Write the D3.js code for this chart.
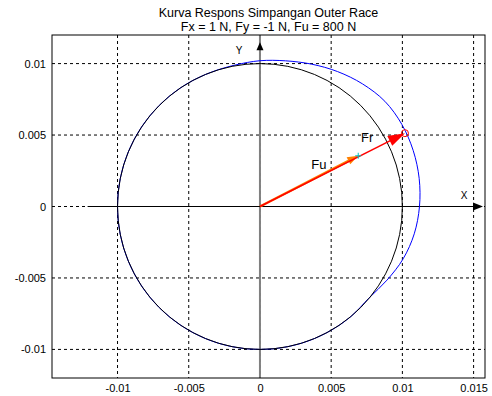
<!DOCTYPE html>
<html>
<head>
<meta charset="utf-8">
<script src="https://cdn.jsdelivr.net/npm/d3@7"></script>
<style>
  body { margin: 0; background: #fff; }
  text { font-family: "Liberation Sans", Arial, sans-serif; }
</style>
</head>
<body>
<div id="chart-area"></div>
<script>
// data
const titleLines = ["Kurva Respons Simpangan Outer Race", "Fx = 1 N, Fy = -1 N, Fu = 800 N"];
const xTicks = [-0.01, -0.005, 0, 0.005, 0.01, 0.015];
const yTicks = [-0.01, -0.005, 0, 0.005, 0.01];

// nominal race (radius 0.01)
const raceRadius = 0.01;

// deflected race, polar: angle (deg) and radius
const blueAngle = [-180, -170, -160, -150, -140, -130, -120, -110, -100, -90, -80, -70, -60, -50, -40, -30, -20, -10,
    0, 10, 20, 30, 40, 50, 60, 70, 80, 90, 100, 110, 120, 130, 140, 150, 160, 170];
const blueRadius = [0.01, 0.01, 0.01, 0.01, 0.01, 0.01, 0.01, 0.01, 0.01, 0.01, 0.01, 0.01, 0.01, 0.01, 0.00998, 0.0103, 0.0107, 0.011,
    0.0112, 0.01135, 0.01145, 0.0115, 0.01145, 0.0112, 0.0109, 0.0106, 0.01035, 0.0102, 0.01005, 0.01, 0.01, 0.01, 0.01, 0.01, 0.01, 0.01];

// force vectors
const fu = [0.0069, 0.00355];
const fr = [0.01018, 0.00513];

const width = 492, height = 396;
const mLeft = 52, mRight = 485, mTop = 35, mBottom = 378;

const svg = d3.select('#chart-area')
    .append("svg")
    .attr("width", width)
    .attr("height", height);

const x = d3.scaleLinear().domain([-0.0146, 0.0158]).range([mLeft, mRight]);
const y = d3.scaleLinear().domain([-0.012, 0.012]).range([mBottom, mTop]);

// title
svg.selectAll(".title")
    .data(titleLines)
    .join("text")
    .attr("class", "title")
    .attr("x", (mLeft + mRight) / 2)
    .attr("y", (d, i) => 17 + i * 14)
    .attr("text-anchor", "middle")
    .attr("font-size", 12.5)
    .text(d => d);

// axes labels
svg.append("g")
    .attr("transform", "translate(0," + mBottom + ")")
    .call(d3.axisBottom(x).tickValues(xTicks).tickSize(0).tickPadding(6).tickFormat(d => String(d)))
    .call(g => g.select(".domain").remove())
    .selectAll("text").attr("font-size", 11).attr("font-family", "Liberation Sans, Arial, sans-serif").attr("fill", "#000");

svg.append("g")
    .attr("transform", "translate(" + mLeft + ",0)")
    .call(d3.axisLeft(y).tickValues(yTicks).tickSize(0).tickPadding(6).tickFormat(d => String(d)))
    .call(g => g.select(".domain").remove())
    .selectAll("text").attr("font-size", 11).attr("font-family", "Liberation Sans, Arial, sans-serif").attr("fill", "#000");

// grid
svg.selectAll(".vgrid")
    .data(xTicks)
    .join("line")
    .attr("x1", d => x(d)).attr("x2", d => x(d))
    .attr("y1", mTop).attr("y2", mBottom)
    .attr("stroke", "#000")
    .attr("stroke-dasharray", "3,3");

svg.selectAll(".hgrid")
    .data(yTicks)
    .join("line")
    .attr("x1", mLeft).attr("x2", mRight)
    .attr("y1", d => y(d)).attr("y2", d => y(d))
    .attr("stroke", "#000")
    .attr("stroke-dasharray", "3,3");

// y axis line (gray, full height) and arrow
svg.append("line")
    .attr("x1", x(0)).attr("x2", x(0))
    .attr("y1", mTop).attr("y2", mBottom)
    .attr("stroke", "#808080")
    .attr("stroke-width", 2);

// x axis line
svg.append("line")
    .attr("x1", x(-0.0121)).attr("x2", x(0.0155))
    .attr("y1", y(0)).attr("y2", y(0))
    .attr("stroke", "#000");

function arrowHead(tx, ty, ang, len, half, color) {
    const bx = tx - len * Math.cos(ang), by = ty - len * Math.sin(ang);
    const px = -Math.sin(ang) * half, py = Math.cos(ang) * half;
    svg.append("path")
        .attr("d", "M" + tx + "," + ty + "L" + (bx + px) + "," + (by + py) + "L" + (bx - px) + "," + (by - py) + "Z")
        .attr("fill", color);
}

arrowHead(x(0.0158) - 2, y(0), 0, 10, 4, "#000");
arrowHead(x(0), y(0.0115), -Math.PI / 2, 8, 3.5, "#000");

svg.append("text").attr("x", x(0.0141)).attr("y", y(0.0005)).attr("font-size", 10).text("X");
svg.append("text").attr("x", x(-0.0017)).attr("y", y(0.0107)).attr("font-size", 10).text("Y");

// deflected race (blue) under nominal race (black)
const blueData = blueAngle.map((a, i) => [blueRadius[i] * Math.cos(a * Math.PI / 180), blueRadius[i] * Math.sin(a * Math.PI / 180)]);
svg.append("path")
    .datum(blueData)
    .attr("d", d3.line().x(d => x(d[0])).y(d => y(d[1])).curve(d3.curveCatmullRomClosed))
    .attr("fill", "none")
    .attr("stroke", "#0000ff");

svg.append("ellipse")
    .attr("cx", x(0)).attr("cy", y(0))
    .attr("rx", x(raceRadius) - x(0))
    .attr("ry", y(0) - y(raceRadius))
    .attr("fill", "none")
    .attr("stroke", "#000");

// force vectors
function vector(v, color, w, len, half) {
    const x0 = x(0), y0 = y(0), x1 = x(v[0]), y1 = y(v[1]);
    const ang = Math.atan2(y1 - y0, x1 - x0);
    svg.append("line")
        .attr("x1", x0).attr("y1", y0)
        .attr("x2", x1 - len * 0.8 * Math.cos(ang)).attr("y2", y1 - len * 0.8 * Math.sin(ang))
        .attr("stroke", color)
        .attr("stroke-width", w);
    arrowHead(x1, y1, ang, len, half, color);
}

vector(fu, "#ff8000", 2.5, 11, 4);
vector(fr, "#ff0000", 1.5, 17, 5.5);

// markers at tips
svg.append("path")
    .attr("d", "M" + (x(fu[0]) - 3) + "," + y(fu[1]) + "h6M" + x(fu[0]) + "," + (y(fu[1]) - 3) + "v6")
    .attr("stroke", "#00c0c0");
svg.append("circle")
    .attr("cx", x(fr[0])).attr("cy", y(fr[1]))
    .attr("r", 3.5)
    .attr("fill", "none")
    .attr("stroke", "#ff0000");

svg.append("text").attr("x", x(0.0036)).attr("y", y(0.0026)).attr("font-size", 13).text("Fu");
svg.append("text").attr("x", x(0.0071)).attr("y", y(0.0045)).attr("font-size", 13).text("Fr");

// box
svg.append("rect")
    .attr("x", mLeft).attr("y", mTop)
    .attr("width", mRight - mLeft).attr("height", mBottom - mTop)
    .attr("fill", "none")
    .attr("stroke", "#000");
</script>
</body>
</html>
